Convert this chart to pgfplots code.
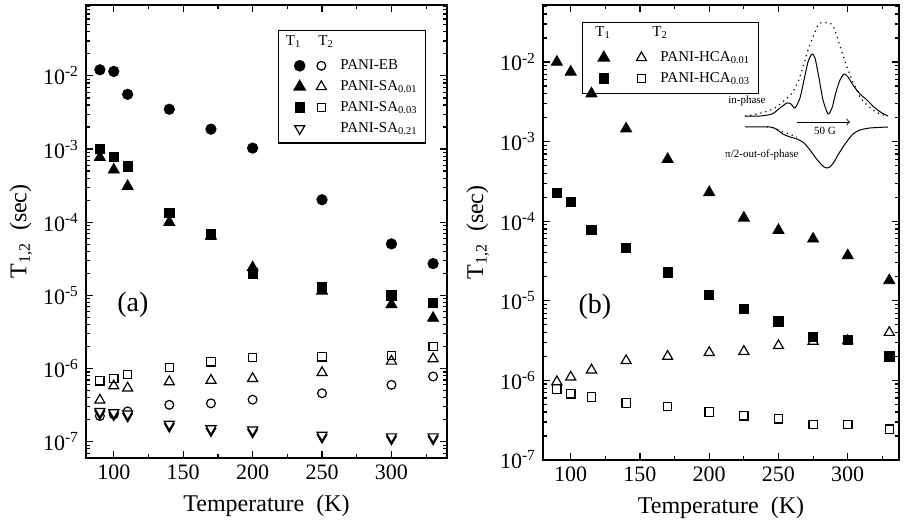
\documentclass[border=0pt]{standalone}
\usepackage{fontspec}
\setmainfont{Liberation Serif}
\usepackage{pgfplots}
\pgfplotsset{compat=1.18}

\pgfplotsset{
  fc/.style={only marks, mark=*, mark size=2.6pt, black},
  oc/.style={only marks, mark=o, mark size=2.2pt, black, mark options={line width=0.6pt}},
  ft/.style={only marks, mark=triangle*, mark size=3.2pt, black},
  ot/.style={only marks, mark=triangle, mark size=2.9pt, black, mark options={line width=0.6pt}},
  fs/.style={only marks, mark=square*, mark size=2.3pt, black},
  os/.style={only marks, mark=square, mark size=2.1pt, black, mark options={line width=0.6pt}},
}

\begin{document}
\begin{tikzpicture}
\useasboundingbox (-43pt,-36pt) rectangle (410.5pt,229pt);

% (a) PANI-EB and PANI-SA
\begin{axis}[at={(0pt,0pt)}, anchor=south west,
  scale only axis, width=180.5pt, height=226.5pt,
  ymode=log, log basis y=10,
  xmin=80, xmax=340, ymin=6e-8, ymax=0.093,
  axis line style={line width=0.8pt},
  tick align=inside,
  xtick={100,150,200,250,300}, xticklabels={100,150,200,250,300},
  minor xtick={125,175,225,275,325},
  major tick length=3.5pt, minor tick length=1.8pt,
  every tick/.style={black, line width=0.6pt},
  yticklabel={\pgfmathtruncatemacro\e{round(\tick)}10\textsuperscript{\e}},
  tick label style={font=\fontsize{11}{13}\selectfont},
  label style={font=\fontsize{12}{14}\selectfont},
  xlabel={Temperature\ \ (K)},
  ylabel={T\textsubscript{1,2}\ \ (sec)},
  xlabel style={at={(axis description cs:0.5,0)}, anchor=center, yshift=-24pt},
  ylabel style={at={(axis description cs:-0.18,0.5)}, anchor=center},
  legend cell align=left,
  legend columns=2,
  legend style={at={(axis description cs:0.532,0.945)}, anchor=north west,
    draw=black, fill=none, line width=0.6pt, inner sep=2pt, row sep=0pt,
    font=\fontsize{7.5}{9}\selectfont,
    /tikz/column 1/.append style={column sep=-3pt},
    /tikz/column 2/.append style={column sep=-1.5pt},
    /tikz/column 3/.append style={column sep=5pt}},
]
\addlegendimage{empty legend}
\addlegendentry{\vphantom{T\textsubscript{1}}}
\addlegendimage{empty legend}
\addlegendentry{}

\addplot[fc] coordinates {(90,0.0121)(100,0.0115)(110,0.0056)(140,0.0035)(170,0.00187)(200,0.00103)(250,2.03e-4)(300,5.06e-5)(330,2.72e-5)};
\addlegendentry{}
\addplot[oc] coordinates {(90,2.25e-7)(100,2.37e-7)(110,2.6e-7)(140,3.2e-7)(170,3.35e-7)(200,3.76e-7)(250,4.6e-7)(300,6.0e-7)(330,7.8e-7)};
\addlegendentry{PANI-EB}
\addplot[ft] coordinates {(90,7.7e-4)(100,5.2e-4)(110,3.1e-4)(140,1.0e-4)(170,6.5e-5)(200,2.4e-5)(250,1.15e-5)(300,7.5e-6)(330,4.9e-6)};
\addlegendentry{}
\addplot[ot] coordinates {(90,3.7e-7)(100,5.8e-7)(110,5.4e-7)(140,6.6e-7)(170,6.9e-7)(200,7.3e-7)(250,8.8e-7)(300,1.26e-6)(330,1.36e-6)};
\addlegendentry{PANI-SA\textsubscript{0.01}}
\addplot[fs] coordinates {(90,1.0e-3)(100,7.9e-4)(110,5.8e-4)(140,1.34e-4)(170,6.8e-5)(200,2.0e-5)(250,1.3e-5)(300,1.0e-5)(330,7.9e-6)};
\addlegendentry{}
\addplot[os] coordinates {(90,6.8e-7)(100,7.3e-7)(110,8.3e-7)(140,1.03e-6)(170,1.24e-6)(200,1.41e-6)(250,1.45e-6)(300,1.51e-6)(330,2.0e-6)};
\addlegendentry{PANI-SA\textsubscript{0.03}}
\addplot[only marks, mark=triangle*, mark size=2.9pt, black, mark options={rotate=180, yshift=1.2pt}, forget plot]
  coordinates {(90,2.6e-7)(100,2.5e-7)(110,2.4e-7)(140,1.74e-7)(170,1.51e-7)(200,1.45e-7)(250,1.23e-7)(300,1.17e-7)(330,1.17e-7)};
\addplot[only marks, mark=triangle*, mark size=2.9pt, black, mark options={rotate=180, fill=white, draw=black, line width=0.6pt}]
  coordinates {(90,2.6e-7)(100,2.5e-7)(110,2.4e-7)(140,1.74e-7)(170,1.51e-7)(200,1.45e-7)(250,1.23e-7)(300,1.17e-7)(330,1.17e-7)};
\addlegendentry{}
\addlegendimage{empty legend}
\addlegendentry{PANI-SA\textsubscript{0.21}}

\node[font=\fontsize{7.5}{9}\selectfont] at (rel axis cs:0.575,0.92) {T\textsubscript{1}};
\node[font=\fontsize{7.5}{9}\selectfont] at (rel axis cs:0.665,0.92) {T\textsubscript{2}};
\node[font=\fontsize{14}{16}\selectfont] at (rel axis cs:0.13,0.338) {(a)};
\end{axis}

% (b) PANI-HCA
\begin{axis}[at={(228.5pt,-1pt)}, anchor=south west,
  scale only axis, width=178pt, height=227.5pt,
  ymode=log, log basis y=10,
  xmin=80, xmax=337, ymin=1e-7, ymax=0.052,
  axis line style={line width=0.8pt},
  tick align=inside,
  xtick={100,150,200,250,300}, xticklabels={100,150,200,250,300},
  minor xtick={125,175,225,275,325},
  major tick length=3.5pt, minor tick length=1.8pt,
  every tick/.style={black, line width=0.6pt},
  yticklabel={\pgfmathtruncatemacro\e{round(\tick)}10\textsuperscript{\e}},
  tick label style={font=\fontsize{11}{13}\selectfont},
  label style={font=\fontsize{12}{14}\selectfont},
  xlabel={Temperature\ \ (K)},
  ylabel={T\textsubscript{1,2}\ \ (sec)},
  xlabel style={at={(axis description cs:0.5,0)}, anchor=center, yshift=-24pt},
  ylabel style={at={(axis description cs:-0.183,0.5)}, anchor=center},
  legend cell align=left,
  legend columns=2,
  legend style={at={(axis description cs:0.11,0.963)}, anchor=north west,
    draw=black, fill=none, line width=0.6pt, inner sep=2pt, row sep=0pt,
    font=\fontsize{7.5}{9}\selectfont,
    /tikz/column 1/.append style={column sep=-3pt},
    /tikz/column 2/.append style={column sep=6.5pt},
    /tikz/column 3/.append style={column sep=5pt}},
]
\addlegendimage{empty legend}
\addlegendentry{\vphantom{T\textsubscript{1}}}
\addlegendimage{empty legend}
\addlegendentry{}

\addplot[ft] coordinates {(90,1.0e-2)(100,7.5e-3)(115,4.0e-3)(140,1.45e-3)(170,6.0e-4)(200,2.3e-4)(225,1.1e-4)(250,7.7e-5)(275,6.0e-5)(300,3.7e-5)(330,1.8e-5)};
\addlegendentry{}
\addplot[ot] coordinates {(90,9.6e-7)(100,1.1e-6)(115,1.35e-6)(140,1.77e-6)(170,2.0e-6)(200,2.24e-6)(225,2.31e-6)(250,2.73e-6)(275,3.1e-6)(300,3.15e-6)(330,4.0e-6)};
\addlegendentry{PANI-HCA\textsubscript{0.01}}
\addplot[fs] coordinates {(90,2.25e-4)(100,1.75e-4)(115,7.7e-5)(140,4.6e-5)(170,2.28e-5)(200,1.19e-5)(225,7.9e-6)(250,5.5e-6)(275,3.5e-6)(300,3.2e-6)(330,2.0e-6)};
\addlegendentry{}
\addplot[os] coordinates {(90,7.8e-7)(100,6.8e-7)(115,6.2e-7)(140,5.2e-7)(170,4.7e-7)(200,4.0e-7)(225,3.6e-7)(250,3.3e-7)(275,2.8e-7)(300,2.8e-7)(330,2.44e-7)};
\addlegendentry{PANI-HCA\textsubscript{0.03}}

\node[font=\fontsize{7.5}{9}\selectfont] at (rel axis cs:0.169,0.94) {T\textsubscript{1}};
\node[font=\fontsize{7.5}{9}\selectfont] at (rel axis cs:0.329,0.94) {T\textsubscript{2}};
\node[font=\fontsize{14}{16}\selectfont] at (rel axis cs:0.146,0.336) {(b)};
\end{axis}

% inset: EPR spectra
\begin{axis}[at={(317pt,141.5pt)}, anchor=south west, scale only axis,
  width=90pt, height=80pt, xmin=-25, xmax=155, ymin=5, ymax=165,
  hide axis, clip=false]
\addplot[black, line width=0.5pt, smooth, tension=0.4] coordinates {(0,64)(15,64)(27,66)(35,72)(42,77)(46,76)(50,72)(55,82)(59,100)(63,118)(67,126)(70,122)(74,102)(78,80)(83,66)(87,72)(91,88)(95,100)(99,106)(103,103)(108,95)(115,86)(122,80)(130,72)(137,67)(143,64)};
\addplot[black, line width=0.6pt, dotted, smooth, tension=0.4] coordinates {(0,64)(7,65)(20,68)(30,72)(40,80)(47,87)(53,98)(58,113)(63,130)(68,143)(72,153)(75,157)(85,157)(89,152)(93,140)(98,125)(102,113)(108,98)(115,83)(121,76)(128,70)(135,66)(143,64)};
\addplot[black, line width=0.5pt, smooth, tension=0.4] coordinates {(0,53)(25,53)(31,51)(38,46)(45,43)(52,41)(59,37)(65,30)(70,23)(75,17)(79,13)(82,12)(85,13)(89,18)(93,25)(98,33)(103,40)(108,46)(115,50)(125,52)(143,53)};
\addplot[black, line width=0.6pt, dotted, smooth, tension=0.4] coordinates {(22,53)(29,52)(36,49)(44,46)(52,43)};
\draw[->, line width=0.4pt] (axis cs:52,58) -- (axis cs:105,58);
\node[font=\fontsize{5.5}{6}\selectfont] at (axis cs:80,49) {50 G};
\node[anchor=east, font=\fontsize{5.5}{6}\selectfont, inner sep=0pt] at (axis cs:21,79) {in-phase};
\node[anchor=east, font=\fontsize{5.5}{6}\selectfont, inner sep=0pt] at (axis cs:54,25) {π/2-out-of-phase};
\end{axis}
\end{tikzpicture}
\end{document}
